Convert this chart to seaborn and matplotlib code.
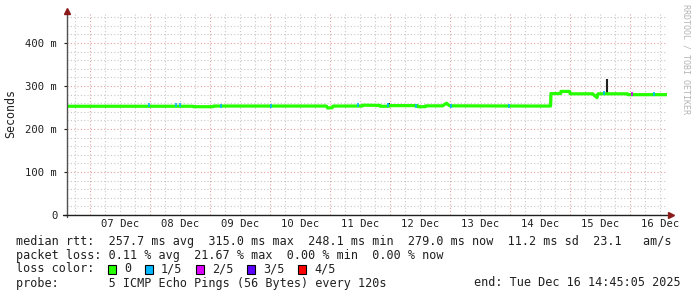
import matplotlib
matplotlib.use("Agg")
import matplotlib.pyplot as plt
import matplotlib.dates as mdates
from matplotlib.patches import Rectangle
from matplotlib.ticker import FixedLocator, FuncFormatter
import numpy as np
import pandas as pd
import seaborn as sns

# ---------------- data ----------------
rtt_times = ["12-06 14:45", "12-08 17:10", "12-08 17:20", "12-09 01:10", "12-09 01:20",
             "12-10 22:30", "12-10 23:00", "12-11 00:50", "12-11 01:10", "12-11 12:45",
             "12-11 13:00", "12-11 19:50", "12-11 20:00", "12-11 23:30", "12-11 23:40",
             "12-12 11:00", "12-12 11:10", "12-12 14:00", "12-12 14:10", "12-12 21:00",
             "12-12 22:30", "12-12 23:50", "12-14 10:00", "12-14 16:10", "12-14 16:20",
             "12-14 20:10", "12-14 20:20", "12-14 23:50", "12-15 00:00", "12-15 09:00",
             "12-15 10:45", "12-15 11:10", "12-15 23:00", "12-15 23:10", "12-16 14:45"]
rtt_ms = [253, 253, 252, 252, 253.5,
          253.5, 249, 249.5, 253.5, 253.5,
          255.5, 255, 253, 253, 254.5,
          254.5, 252, 252, 254, 254,
          260, 254, 253.5, 253.5, 282.5,
          282.5, 287.5, 287.5, 282, 282,
          273, 282, 282, 280, 280]

# packet loss points (1/5 and 2/5 loss)
loss_times = ["12-07 23:30", "12-08 10:30", "12-08 12:00", "12-09 04:30", "12-10 00:10",
              "12-11 11:00", "12-11 23:00", "12-12 10:30", "12-13 00:10", "12-13 23:40",
              "12-15 13:40", "12-16 09:40"]
loss_ms = [255, 256, 256, 254, 254, 255, 256, 254, 254, 254, 284, 282]
loss2_times = ["12-16 00:40"]
loss2_ms = [281]

# smoke (spread) segments drawn dark
smoke_times = ["12-11 23:40", "12-14 10:00", "12-14 16:10", "12-15 10:40", "12-15 14:40", "12-15 23:10"]
smoke_lo = [252, 252, 254, 274, 283, 278]
smoke_hi = [261, 257, 283, 282, 316, 283]

loss_legend = ["0", "1/5", "2/5", "3/5", "4/5"]
loss_colors = ["#26ff00", "#00b8ff", "#dd00ff", "#5e00ff", "#ff0000"]

day_labels = ["07 Dec", "08 Dec", "09 Dec", "10 Dec", "11 Dec",
              "12 Dec", "13 Dec", "14 Dec", "15 Dec", "16 Dec"]
y_ticks_ms = [0, 100, 200, 300, 400]

stats_line1 = "median rtt:  257.7 ms avg  315.0 ms max  248.1 ms min  279.0 ms now  11.2 ms sd  23.1   am/s"
stats_line2 = "packet loss: 0.11 % avg  21.67 % max  0.00 % min  0.00 % now"
probe_line = "probe:       5 ICMP Echo Pings (56 Bytes) every 120s"
end_line = "end: Tue Dec 16 14:45:05 2025"

# ---------------- setup ----------------
sns.set_theme(style="white")
plt.rcParams["font.family"] = ["DejaVu Sans Mono"]

def ts(s):
    return pd.Timestamp("2025-" + s)

start = pd.Timestamp("2025-12-06 14:45:05")
end = pd.Timestamp("2025-12-16 14:45:05")

W, H = 697, 297
fig = plt.figure(figsize=(W / 100, H / 100), dpi=100)
fig.patch.set_facecolor("white")
ax = fig.add_axes([67 / W, 82 / H, 600 / W, 202 / H])
ax.set_facecolor("white")

df = pd.DataFrame({"time": [ts(t) for t in rtt_times], "rtt": rtt_ms})

# grid
ax.set_xlim(start, end)
ax.set_ylim(0, 470)
midnights = pd.date_range("2025-12-07", "2025-12-16", freq="D")
six_h = pd.date_range("2025-12-06 18:00", "2025-12-16 12:00", freq="6h")
ax.xaxis.set_major_locator(FixedLocator(mdates.date2num(midnights)))
ax.xaxis.set_minor_locator(FixedLocator(mdates.date2num(six_h)))
ax.yaxis.set_major_locator(FixedLocator(y_ticks_ms))
ax.yaxis.set_minor_locator(FixedLocator(np.arange(20, 470, 20)))
ax.grid(which="minor", color="#c8c8c8", linestyle=(0, (1, 2)), linewidth=0.8)
ax.grid(which="major", color="#e8a0a0", linestyle=(0, (1, 2)), linewidth=0.8)
ax.set_axisbelow(True)

# smoke
ax.vlines([ts(t) for t in smoke_times], smoke_lo, smoke_hi, color="#202020", linewidth=1.5, zorder=3)

# median line
sns.lineplot(data=df, x="time", y="rtt", ax=ax, color=loss_colors[0], linewidth=2.3,
             zorder=4, legend=False)

# loss markers
ldf = pd.DataFrame({"time": [ts(t) for t in loss_times], "rtt": loss_ms})
sns.scatterplot(data=ldf, x="time", y="rtt", ax=ax, color=loss_colors[1], marker="|", s=12,
                linewidth=1.2, zorder=5, legend=False)
l2 = pd.DataFrame({"time": [ts(t) for t in loss2_times], "rtt": loss2_ms})
sns.scatterplot(data=l2, x="time", y="rtt", ax=ax, color=loss_colors[2], marker="|", s=12,
                linewidth=1.2, zorder=5, legend=False)

ax.set_xlabel("")
ax.set_ylabel("")

# ticks
ax.yaxis.set_major_formatter(FuncFormatter(lambda v, p: "0" if v == 0 else f"{int(v)} m"))
ax.tick_params(axis="y", which="major", length=2, width=0.8, pad=5, labelsize=7.6,
               colors="#202020", left=True)
ax.tick_params(axis="y", which="minor", length=0)
ax.tick_params(axis="x", which="both", length=0, labelbottom=False)

sec = ax.secondary_xaxis("bottom")
noons = pd.date_range("2025-12-07 12:00", "2025-12-16 12:00", freq="D")
sec.set_xticks(mdates.date2num(noons))
sec.set_xticklabels(day_labels)
sec.tick_params(length=0, pad=3, labelsize=7.6, colors="#202020")
sec.spines["bottom"].set_visible(False)

for s in ["top", "right", "left", "bottom"]:
    ax.spines[s].set_visible(False)

# axis lines with arrows
ax.plot([0, 0], [-0.012, 1.0], transform=ax.transAxes, color="#505050", lw=1.0, clip_on=False, zorder=6)
ax.plot([-0.006, 1.0], [0, 0], transform=ax.transAxes, color="#202020", lw=1.0, clip_on=False, zorder=6)
ax.plot([0], [1.012], transform=ax.transAxes, marker="^", color="#8b1a1a", markersize=4.5,
        clip_on=False, zorder=7)
ax.plot([1.007], [0], transform=ax.transAxes, marker=">", color="#8b1a1a", markersize=4.5,
        clip_on=False, zorder=7)

# labels
fig.text(11 / W, 1 - 114 / H, "Seconds", rotation=90, ha="center", va="center",
         fontsize=8.4, color="#202020")
fig.text(686 / W, 1 - 4 / H, "RRDTOOL / TOBI OETIKER", rotation=270, ha="center", va="top",
         fontsize=6.0, color="#b4b4b4")

fs = 8.5
txtc = "#202020"
fig.text(16 / W, 1 - 241 / H, stats_line1, ha="left", va="center", fontsize=fs, color=txtc)
fig.text(16 / W, 1 - 255 / H, stats_line2, ha="left", va="center", fontsize=fs, color=txtc)
fig.text(16 / W, 1 - 269 / H, "loss color:", ha="left", va="center", fontsize=fs, color=txtc)
sq_x = [108, 145, 196, 247, 298]
for x0, lab, col in zip(sq_x, loss_legend, loss_colors):
    fig.patches.append(Rectangle((x0 / W, 1 - 274 / H), 8 / W, 9 / H, transform=fig.transFigure,
                                 facecolor=col, edgecolor="black", linewidth=0.8))
    fig.text((x0 + 16) / W, 1 - 269 / H, lab, ha="left", va="center", fontsize=fs, color=txtc)
fig.text(16 / W, 1 - 283 / H, probe_line, ha="left", va="center", fontsize=fs, color=txtc)
fig.text(681 / W, 1 - 283 / H, end_line, ha="right", va="center", fontsize=fs, color=txtc)

fig.savefig("out.png", dpi=100, facecolor="white")
